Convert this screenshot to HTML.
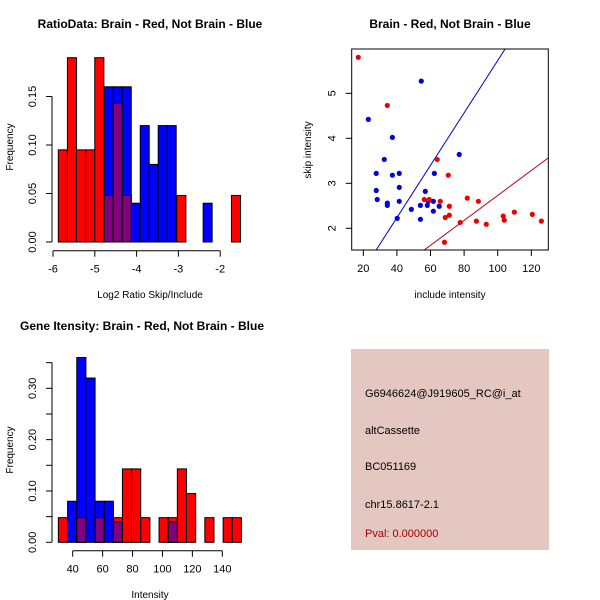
<!DOCTYPE html>
<html><head><meta charset="utf-8"><style>
body{margin:0;background:#fff}
svg{display:block;font-family:"Liberation Sans",sans-serif}
</style></head><body>
<svg id="s" width="600" height="600" xmlns="http://www.w3.org/2000/svg">
<rect width="600" height="600" fill="#fff"/>
<text x="150" y="28" font-size="12" font-weight="bold" text-anchor="middle">RatioData: Brain - Red, Not Brain - Blue</text>
<text x="450" y="28" font-size="12" font-weight="bold" text-anchor="middle">Brain - Red, Not Brain - Blue</text>
<text x="142" y="330" font-size="12" font-weight="bold" text-anchor="middle">Gene Itensity: Brain - Red, Not Brain - Blue</text>
<text x="150" y="298" font-size="10" text-anchor="middle">Log2 Ratio Skip/Include</text>
<text transform="translate(13,147) rotate(-90)" font-size="10" text-anchor="middle">Frequency</text>
<text x="450" y="298" font-size="10" text-anchor="middle">include intensity</text>
<text transform="translate(311,150) rotate(-90)" font-size="10" text-anchor="middle">skip intensity</text>
<text x="150" y="598" font-size="10" text-anchor="middle">Intensity</text>
<text transform="translate(13,450) rotate(-90)" font-size="10" text-anchor="middle">Frequency</text>
<g>
<rect x="351" y="349" width="198" height="201" fill="#e4c7c0"/>
<text x="365" y="397" font-size="11">G6946624@J919605_RC@i_at</text>
<text x="365" y="434" font-size="11">altCassette</text>
<text x="365" y="470" font-size="11">BC051169</text>
<text x="365" y="508" font-size="11">chr15.8617-2.1</text>
<text x="365" y="537" font-size="11" fill="#a00000">Pval: 0.000000</text>
</g>
</svg>
<script>
// ---- Ratio histogram data ----
const ratioRedStart=-5.873, ratioRedWidth=0.218;
const ratioRed=[0.095,0.19,0.095,0.095,0.19,0.048,0.143,0.048,0,0,0,0,0,0.048,0,0,0,0,0,0.048];
const ratioBlueStart=-4.773, ratioBlueWidth=0.215;
const ratioBlue=[0.16,0.16,0.16,0.04,0.12,0.08,0.12,0.12,0,0,0,0.04];
const ratioXTicks=[-6,-5,-4,-3,-2];
const ratioYTicks=["0.00","0.05","0.10","0.15"];
// ---- Intensity histogram data ----
const intRedStart=30.4, intRedWidth=6.12;
const intRed=[0.048,0,0.048,0,0.048,0,0.048,0.143,0.143,0.048,0,0.048,0.048,0.143,0.095,0,0.048,0,0.048,0.048];
const intBlueStart=36.6, intBlueWidth=6.12;
const intBlue=[0.08,0.36,0.32,0.08,0.08,0.04,0,0,0,0,0,0.04];
const intXTicks=[40,60,80,100,120,140];
const intYTicks=["0.00","0.10","0.20","0.30"];
const intYMinor=[0.05,0.15,0.25,0.35];
// ---- Scatter data ----
const blueX=[54.5,23,37.3,32.5,27.7,37.3,41.4,62.3,77.1,27.7,41.4,56.9,28.3,34.3,34.3,41.4,40.2,48.6,54,54,58.1,58.7,61.7,61.7,65.2];
const blueY=[5.27,4.42,4.02,3.53,3.22,3.18,3.22,3.22,3.64,2.84,2.91,2.82,2.64,2.56,2.51,2.6,2.22,2.42,2.51,2.2,2.51,2.6,2.6,2.38,2.49];
const redX=[17,34.3,64,70.6,56.3,59.3,65.8,71.2,81.9,88.5,68.8,71.2,77.7,87.3,93.2,103.3,103.9,109.9,120.6,126,68.3];
const redY=[5.8,4.73,3.53,3.18,2.64,2.64,2.6,2.49,2.67,2.6,2.24,2.29,2.13,2.16,2.09,2.27,2.18,2.36,2.31,2.16,1.69];
const blueLine=[0.0582,-0.092]; // slope, intercept
const redLine=[0.0277,-0.04];
const scXTicks=[20,40,60,80,100,120];
const scYTicks=[2,3,4,5];

const S=document.getElementById('s');
const NS='http://www.w3.org/2000/svg';
function mk(tag,attrs,parent){const e=document.createElementNS(NS,tag);for(const k in attrs)e.setAttribute(k,attrs[k]);(parent||S).appendChild(e);return e;}

function hist(g,xs,ys,redStart,redW,red,blueStart,blueW,blue,prefix){
  const rr=[],bb=[];
  red.forEach((v,i)=>{if(v<=0)return;const x0=xs(redStart+i*redW),x1=xs(redStart+(i+1)*redW);
    const r=mk('rect',{x:x0,y:ys(v),width:x1-x0,height:ys(0)-ys(v),fill:'#ff0000',stroke:'#000','stroke-width':1},g);
    
    
    rr.push([x0,x1,v]);});
  blue.forEach((v,i)=>{if(v<=0)return;const x0=xs(blueStart+i*blueW),x1=xs(blueStart+(i+1)*blueW);
    const r=mk('rect',{x:x0,y:ys(v),width:x1-x0,height:ys(0)-ys(v),fill:'#0000ff',stroke:'#000','stroke-width':1},g);
    
    
    bb.push([x0,x1,v]);});
  rr.forEach(a=>bb.forEach(b=>{const x0=Math.max(a[0],b[0]),x1=Math.min(a[1],b[1]);if(x1-x0<3)return;const v=Math.min(a[2],b[2]);
    const r=mk('rect',{x:x0,y:ys(v),width:x1-x0,height:ys(0)-ys(v),fill:'#800080',stroke:'#000','stroke-width':1},g);
    
    }));
}
function yAxis(x,y0,y1,ticks,yfn,labels,minor){
  mk('line',{x1:x,y1:y0,x2:x,y2:y1,stroke:'#000'});
  ticks.forEach((t,i)=>{const y=yfn(t);mk('line',{x1:x-6,y1:y,x2:x,y2:y,stroke:'#000'});
    const tx=mk('text',{transform:`translate(${x-16},${y}) rotate(-90)`,'font-size':11,'text-anchor':'middle'});tx.textContent=labels[i];
    
    });
  (minor||[]).forEach(t=>{const y=yfn(t);mk('line',{x1:x-6,y1:y,x2:x,y2:y,stroke:'#000'});});
}
function xAxis(y,ticks,xfn){
  mk('line',{x1:xfn(ticks[0]),y1:y,x2:xfn(ticks[ticks.length-1]),y2:y,stroke:'#000'});
  ticks.forEach(t=>{const x=xfn(t);mk('line',{x1:x,y1:y,x2:x,y2:y+6,stroke:'#000'});
    const tx=mk('text',{x:x,y:y+22,'font-size':11,'text-anchor':'middle'});tx.textContent=t;
    
    });
}
// Ratio histogram
{const xs=v=>53+(v+6)*41.8, ys=v=>242-v*970;
 const g=mk('g',{});
 hist(g,xs,ys,ratioRedStart,ratioRedWidth,ratioRed,ratioBlueStart,ratioBlueWidth,ratioBlue,'ratio');
 yAxis(52,ys(0),ys(0.15),ratioYTicks.map(Number),ys,ratioYTicks);
 xAxis(250.7,ratioXTicks,xs);}
// Intensity histogram
{const xs=v=>72.7+(v-40)*1.496, ys=v=>542.3-v*513.3;
 const g=mk('g',{});
 hist(g,xs,ys,intRedStart,intRedWidth,intRed,intBlueStart,intBlueWidth,intBlue,'intensity');
 yAxis(52,ys(0),ys(0.35),intYTicks.map(Number),ys,intYTicks,intYMinor);
 xAxis(550.7,intXTicks,xs);}
// Scatter
{const xs=v=>363.3+(v-20)*1.68, ys=v=>228.3-(v-2)*45;
 const L=351.7,R=548.3,T=49,B=250;
 const g=mk('g',{});
 const cp=mk('clipPath',{id:'cp'});mk('rect',{x:L,y:T,width:R-L,height:B-T},cp);
 [[blueLine,'#0000cc','blue-fit-line'],[redLine,'#c00020','red-fit-line']].forEach(([ln,c,n])=>{
   const xa=0,xb=140;const l=mk('line',{x1:xs(xa),y1:ys(ln[0]*xa+ln[1]),x2:xs(xb),y2:ys(ln[0]*xb+ln[1]),stroke:c,'clip-path':'url(#cp)'},g);
   
   });
 blueX.forEach((x,i)=>{const c=mk('circle',{cx:xs(x),cy:ys(blueY[i]),r:2.6,fill:'#0000dd'},g);
   
   });
 redX.forEach((x,i)=>{const c=mk('circle',{cx:xs(x),cy:ys(redY[i]),r:2.6,fill:'#ee0000'},g);
   
   });
 mk('rect',{x:L,y:T,width:R-L,height:B-T,fill:'none',stroke:'#000'});
 scYTicks.forEach(t=>{const y=ys(t);mk('line',{x1:L-6,y1:y,x2:L,y2:y,stroke:'#000'});
   const tx=mk('text',{transform:`translate(${L-16},${y}) rotate(-90)`,'font-size':11,'text-anchor':'middle'});tx.textContent=t;
   
   });
 scXTicks.forEach(t=>{const x=xs(t);mk('line',{x1:x,y1:B,x2:x,y2:B+6,stroke:'#000'});
   const tx=mk('text',{x:x,y:B+22,'font-size':11,'text-anchor':'middle'});tx.textContent=t;
   
   });}
</script>
</body></html>
